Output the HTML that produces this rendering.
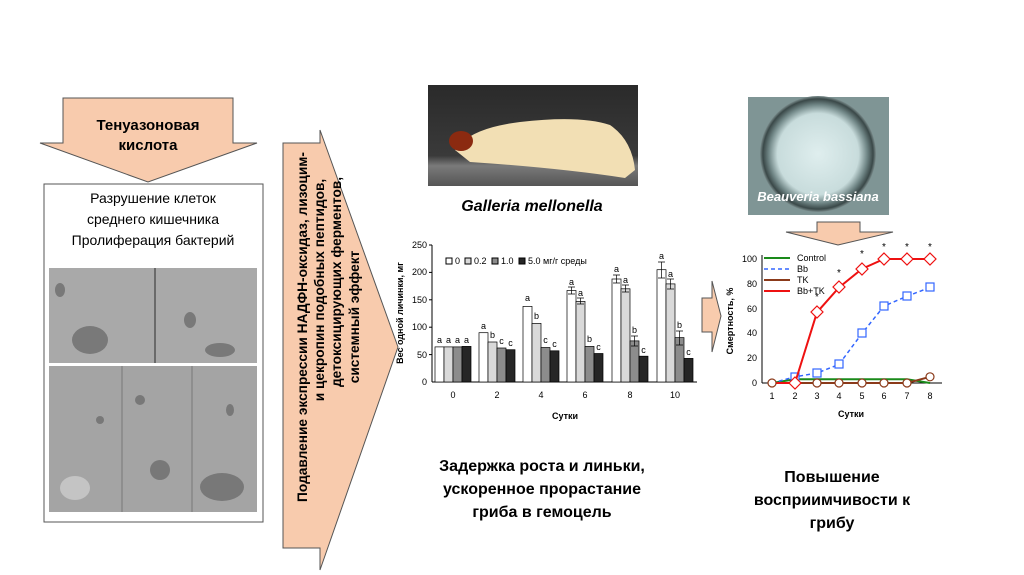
<!DOCTYPE html>
<html><head><meta charset="utf-8"><style>
html,body{margin:0;padding:0;background:#fff}
svg{display:block;font-family:"Liberation Sans",sans-serif}
</style></head><body>
<svg width="1024" height="575" viewBox="0 0 1024 575" xmlns="http://www.w3.org/2000/svg">
<defs>
<radialGradient id="dish" cx="50%" cy="50%" r="50%"><stop offset="0" stop-color="#dfeeee"/><stop offset="0.7" stop-color="#c8dcdc"/><stop offset="0.85" stop-color="#6f8585"/><stop offset="0.95" stop-color="#3a4848"/><stop offset="1" stop-color="#7a8c8c"/></radialGradient>
<linearGradient id="bg1" x1="0" y1="0" x2="0" y2="1"><stop offset="0" stop-color="#2a2a2a"/><stop offset="0.7" stop-color="#3a3a3a"/><stop offset="0.8" stop-color="#7a7a7a"/><stop offset="1" stop-color="#555"/></linearGradient>
</defs>
<polygon points="63,98 233,98 233,143 257,143 148,182 40,143 63,143" fill="#f8cbad" stroke="#555" stroke-width="1"/>
<text x="148" y="130" font-size="15" font-weight="bold" text-anchor="middle">Тенуазоновая</text>
<text x="148" y="150" font-size="15" font-weight="bold" text-anchor="middle">кислота</text>
<rect x="44" y="184" width="219" height="338" fill="#fff" stroke="#555" stroke-width="1"/>
<text font-size="14" text-anchor="middle"><tspan x="153" y="203">Разрушение клеток</tspan><tspan x="153" y="224">среднего кишечника</tspan><tspan x="153" y="245">Пролиферация бактерий</tspan></text>
<rect x="49" y="268" width="208" height="95" fill="#a9a9a9"/>
<rect x="49" y="366" width="208" height="146" fill="#a4a4a4"/>
<line x1="155" y1="268" x2="155" y2="363" stroke="#555" stroke-width="1.5"/>
<line x1="122" y1="366" x2="122" y2="512" stroke="#777"/>
<line x1="192" y1="366" x2="192" y2="512" stroke="#777"/>
<g fill="#6e6e6e" opacity="0.8">
<ellipse cx="90" cy="340" rx="18" ry="14"/><ellipse cx="60" cy="290" rx="5" ry="7"/><ellipse cx="190" cy="320" rx="6" ry="8"/><ellipse cx="220" cy="350" rx="15" ry="7"/>
<ellipse cx="75" cy="488" rx="15" ry="12" fill="#ccc"/><ellipse cx="222" cy="487" rx="22" ry="14"/><ellipse cx="160" cy="470" rx="10" ry="10"/>
<ellipse cx="100" cy="420" rx="4" ry="4"/><ellipse cx="230" cy="410" rx="4" ry="6"/><ellipse cx="140" cy="400" rx="5" ry="5"/>
</g>
<polygon points="283,143 320,143 320,130 398,347 320,570 320,548 283,548" fill="#f8cbad" stroke="#555" stroke-width="1"/>
<g font-size="13.7" font-weight="bold" text-anchor="middle">
<text transform="translate(307,327) rotate(-90)">Подавление экспрессии НАДФН-оксидаз, лизоцим-</text>
<text transform="translate(324,290) rotate(-90)">и цекропин подобных пептидов,</text>
<text transform="translate(341,282) rotate(-90)">детоксицирующих ферментов,</text>
<text transform="translate(359,317) rotate(-90)">системный эффект</text>
</g>
<rect x="428" y="85" width="210" height="101" fill="url(#bg1)"/>
<path d="M455,150 Q470,128 520,122 Q580,115 610,125 Q632,140 635,170 L625,178 Q560,168 470,162 Z" fill="#f2dfb4"/>
<ellipse cx="461" cy="141" rx="12" ry="10" fill="#8b2a10"/>
<text x="532" y="211" font-size="16" font-weight="bold" font-style="italic" text-anchor="middle">Galleria mellonella</text>
<rect x="748" y="97" width="141" height="118" fill="#7f9595"/>
<circle cx="818" cy="154" r="58" fill="url(#dish)"/>
<text x="818" y="201" font-size="13" font-weight="bold" font-style="italic" fill="#fff" text-anchor="middle">Beauveria bassiana</text>
<polygon points="817,222 860,222 860,232 893,232 838,245 786,232 817,232" fill="#f8cbad" stroke="#555"/>
<polygon points="702,298 712,298 712,281 721,316 712,352 712,332 702,332" fill="#f8cbad" stroke="#555"/>
<g font-size="9" fill="#000">
<line x1="432" y1="245" x2="432" y2="382" stroke="#000"/>
<line x1="432" y1="382" x2="697" y2="382" stroke="#000"/>
<g text-anchor="end">
<text x="427" y="385">0</text><text x="427" y="358">50</text><text x="427" y="330">100</text><text x="427" y="303">150</text><text x="427" y="275">200</text><text x="427" y="248">250</text>
</g>
<g stroke="#000"><line x1="429" y1="245" x2="432" y2="245"/><line x1="429" y1="272.4" x2="432" y2="272.4"/><line x1="429" y1="299.8" x2="432" y2="299.8"/><line x1="429" y1="327.2" x2="432" y2="327.2"/><line x1="429" y1="354.6" x2="432" y2="354.6"/></g>
<g text-anchor="middle"><text x="453" y="398">0</text><text x="497" y="398">2</text><text x="541" y="398">4</text><text x="585" y="398">6</text><text x="630" y="398">8</text><text x="675" y="398">10</text></g>
<text x="565" y="419" font-weight="bold" text-anchor="middle">Сутки</text>
<text transform="translate(403,313) rotate(-90)" font-weight="bold" text-anchor="middle">Вес одной личинки, мг</text>
<rect x="446" y="258" width="6" height="6" fill="#fff" stroke="#000"/><text x="455" y="264">0</text>
<rect x="465" y="258" width="6" height="6" fill="#d9d9d9" stroke="#000"/><text x="474" y="264">0.2</text>
<rect x="492" y="258" width="6" height="6" fill="#8c8c8c" stroke="#000"/><text x="501" y="264">1.0</text>
<rect x="519" y="258" width="6" height="6" fill="#262626" stroke="#000"/><text x="528" y="264">5.0 мг/г среды</text>
<g stroke="#000" stroke-width="0.7">
<rect x="435" y="346.9" width="9" height="35.1" fill="#fff"/><rect x="444" y="346.9" width="9" height="35.1" fill="#d9d9d9"/><rect x="453" y="346.9" width="9" height="35.1" fill="#8c8c8c"/><rect x="462" y="346.4" width="9" height="35.6" fill="#262626"/>
<rect x="479" y="332.7" width="9" height="49.3" fill="#fff"/><rect x="488" y="342" width="9" height="40" fill="#d9d9d9"/><rect x="497" y="348" width="9" height="34" fill="#8c8c8c"/><rect x="506" y="349.7" width="9" height="32.3" fill="#262626"/>
<rect x="523" y="306.4" width="9" height="75.6" fill="#fff"/><rect x="532" y="323.4" width="9" height="58.6" fill="#d9d9d9"/><rect x="541" y="347.5" width="9" height="34.5" fill="#8c8c8c"/><rect x="550" y="350.8" width="9" height="31.2" fill="#262626"/>
<rect x="567" y="290.5" width="9" height="91.5" fill="#fff"/><rect x="576" y="301.4" width="9" height="80.6" fill="#d9d9d9"/><rect x="585" y="346.4" width="9" height="35.6" fill="#8c8c8c"/><rect x="594" y="353.5" width="9" height="28.5" fill="#262626"/>
<rect x="612" y="279" width="9" height="103" fill="#fff"/><rect x="621" y="288.8" width="9" height="93.2" fill="#d9d9d9"/><rect x="630" y="340.9" width="9" height="41.1" fill="#8c8c8c"/><rect x="639" y="356.2" width="9" height="25.8" fill="#262626"/>
<rect x="657" y="269.7" width="9" height="112.3" fill="#fff"/><rect x="666" y="283.9" width="9" height="98.1" fill="#d9d9d9"/><rect x="675" y="337.6" width="9" height="44.4" fill="#8c8c8c"/><rect x="684" y="358.4" width="9" height="23.6" fill="#262626"/>
<path d="M616.5,275v8M613,275h7M613,283h7 M625.5,285v7M622,285h7M622,292h7 M634.5,336v10M631,336h7M631,346h7 M661.5,262v16M658,262h7M658,278h7 M670.5,279v10M667,279h7M667,289h7 M679.5,331v14M676,331h7M676,345h7 M571.5,287v7M568,287h7M568,294h7 M580.5,298v6M577,298h7M577,304h7" fill="none"/>
</g>
<g text-anchor="middle">
<text x="439.5" y="343">a</text><text x="448.5" y="343">a</text><text x="457.5" y="343">a</text><text x="466.5" y="343">a</text>
<text x="483.5" y="329">a</text><text x="492.5" y="338">b</text><text x="501.5" y="344">c</text><text x="510.5" y="346">c</text>
<text x="527.5" y="301">a</text><text x="536.5" y="319">b</text><text x="545.5" y="343">c</text><text x="554.5" y="347">c</text>
<text x="571.5" y="285">a</text><text x="580.5" y="296">a</text><text x="589.5" y="342">b</text><text x="598.5" y="350">c</text>
<text x="616.5" y="272">a</text><text x="625.5" y="283">a</text><text x="634.5" y="333">b</text><text x="643.5" y="353">c</text>
<text x="661.5" y="259">a</text><text x="670.5" y="277">a</text><text x="679.5" y="328">b</text><text x="688.5" y="355">c</text>
</g>
</g>
<g font-size="9">
<line x1="762" y1="255" x2="762" y2="383" stroke="#000"/>
<line x1="762" y1="383" x2="942" y2="383" stroke="#000"/>
<g text-anchor="end"><text x="757" y="386">0</text><text x="757" y="361">20</text><text x="757" y="336">40</text><text x="757" y="312">60</text><text x="757" y="287">80</text><text x="757" y="262">100</text></g>
<g text-anchor="middle"><text x="772" y="399">1</text><text x="795" y="399">2</text><text x="817" y="399">3</text><text x="839" y="399">4</text><text x="862" y="399">5</text><text x="884" y="399">6</text><text x="907" y="399">7</text><text x="930" y="399">8</text></g>
<text x="851" y="417" font-weight="bold" text-anchor="middle">Сутки</text>
<text transform="translate(733,321) rotate(-90)" font-weight="bold" text-anchor="middle">Смертность, %</text>
<line x1="764" y1="258" x2="790" y2="258" stroke="#1a8a1a" stroke-width="2"/><text x="797" y="261">Control</text>
<line x1="764" y1="269" x2="790" y2="269" stroke="#3366ff" stroke-width="1.5" stroke-dasharray="4,3"/><text x="797" y="272">Bb</text>
<line x1="764" y1="280" x2="790" y2="280" stroke="#8b3a1a" stroke-width="2"/><text x="797" y="283">TK</text>
<line x1="764" y1="291" x2="790" y2="291" stroke="#ee1111" stroke-width="2"/><text x="797" y="294">Bb+TK</text>
<polyline points="772,383 795,379.3 817,379.3 839,379.3 862,379.3 884,379.3 907,379.3 930,383" fill="none" stroke="#1a8a1a" stroke-width="2"/>
<polyline points="772,383 795,376.8 817,373.1 839,364.4 862,333.4 884,306.1 907,296.2 930,287.5" fill="none" stroke="#3366ff" stroke-width="1.5" stroke-dasharray="4,3"/>
<g fill="#fff" stroke="#3366ff" stroke-width="1.2"><rect x="791" y="373" width="8" height="8"/><rect x="813" y="369" width="8" height="8"/><rect x="835" y="360" width="8" height="8"/><rect x="858" y="329" width="8" height="8"/><rect x="880" y="302" width="8" height="8"/><rect x="903" y="292" width="8" height="8"/><rect x="926" y="283" width="8" height="8"/></g>
<polyline points="772,383 795,383 817,383 839,383 862,383 884,383 907,383 930,376.8" fill="none" stroke="#8b3a1a" stroke-width="2"/>
<polyline points="772,383 795,383 817,312.3 839,287.5 862,268.9 884,259 907,259 930,259" fill="none" stroke="#ee1111" stroke-width="2"/>
<g fill="#fff" stroke="#ee1111" stroke-width="1.2"><path d="M817,306l6,6l-6,6l-6,-6z M839,281l6,6l-6,6l-6,-6z M862,263l6,6l-6,6l-6,-6z M884,253l6,6l-6,6l-6,-6z M907,253l6,6l-6,6l-6,-6z M930,253l6,6l-6,6l-6,-6z M795,377l6,6l-6,6l-6,-6z"/></g>
<g fill="#fff" stroke="#8b3a1a" stroke-width="1.2"><circle cx="772" cy="383" r="4"/><circle cx="817" cy="383" r="4"/><circle cx="839" cy="383" r="4"/><circle cx="862" cy="383" r="4"/><circle cx="884" cy="383" r="4"/><circle cx="907" cy="383" r="4"/><circle cx="930" cy="376.8" r="4"/></g>
<g text-anchor="middle" font-size="10"><text x="817" y="300">*</text><text x="839" y="276">*</text><text x="862" y="257">*</text><text x="884" y="250">*</text><text x="907" y="250">*</text><text x="930" y="250">*</text></g>
</g>
<g font-size="16" font-weight="bold" text-anchor="middle">
<text x="542" y="471">Задержка роста и линьки,</text>
<text x="542" y="494">ускоренное прорастание</text>
<text x="542" y="517">гриба в гемоцель</text>
<text x="832" y="482">Повышение</text>
<text x="832" y="505">восприимчивости к</text>
<text x="832" y="528">грибу</text>
</g>
</svg>
</body></html>
